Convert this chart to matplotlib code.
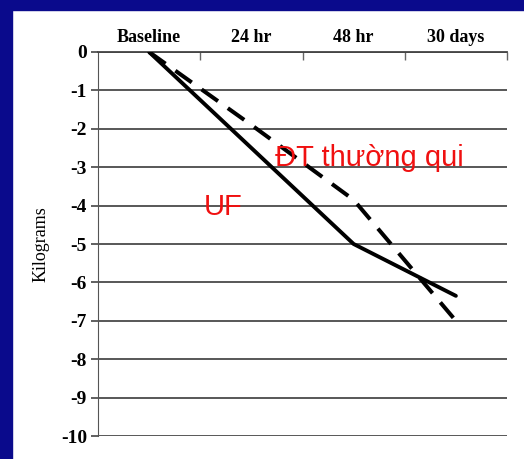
import matplotlib.pyplot as plt
from matplotlib.ticker import FixedLocator, NullFormatter

# data
categories = ["Baseline", "24 hr", "48 hr", "30 days"]
uf_kg = [0, -2.5, -5.0, -6.35]
standard_kg = [0, -1.9, -3.85, -7.0]
y_ticks = list(range(0, -11, -1))

fig = plt.figure(figsize=(5.24, 4.59), dpi=100)
fig.patch.set_facecolor("white")

# dark blue slide frame (top and left bands)
fig.patches.append(plt.Rectangle((0, 1 - 10 / 459), 1, 10 / 459,
                                 transform=fig.transFigure, color="#0a0a8c", zorder=0))
fig.patches.append(plt.Rectangle((0, 0), 12 / 524, 1,
                                 transform=fig.transFigure, color="#0a0a8c", zorder=0))

ax = fig.add_axes([98 / 524, 23 / 459, 409 / 524, 384 / 459])
ax.set_facecolor("none")

x = range(len(categories))
ax.plot(x, uf_kg, color="black", lw=2.8, solid_joinstyle="round",
        solid_capstyle="round", zorder=3)
ax.plot(x, standard_kg, color="black", lw=2.9, dashes=(5.0, 3.0), zorder=3)

ax.set_xlim(-0.5, len(categories) - 0.5)
ax.set_ylim(-10, 0)

# category axis on top, ticks on boundaries, labels centred
ax.xaxis.tick_top()
ax.xaxis.set_major_locator(FixedLocator([i + 0.5 for i in x]))
ax.xaxis.set_major_formatter(NullFormatter())
ax.xaxis.set_minor_locator(FixedLocator(list(x)))
ax.set_xticklabels(categories, minor=True)
ax.tick_params(axis="x", which="major", direction="in", length=6, color="#666666", width=1)
ax.tick_params(axis="x", which="minor", length=0, pad=4)
for lab in ax.get_xticklabels(minor=True):
    lab.set_fontfamily("Liberation Serif")
    lab.set_fontweight("bold")
    lab.set_fontsize(13)

ax.set_yticks(y_ticks)
ax.set_yticklabels([str(v) for v in y_ticks], fontfamily="Liberation Serif",
                   fontweight="bold", fontsize=14)
ax.tick_params(axis="y", direction="out", length=5, width=1.2, color="#444444", pad=3)
ax.grid(axis="y", color="#4a4a4a", lw=1.3)

for side in ["right", "bottom"]:
    ax.spines[side].set_visible(False)
ax.spines["left"].set_color("#555555")
ax.spines["top"].set_color("#444444")
ax.spines["top"].set_linewidth(1.3)

ax.set_ylabel("Kilograms", fontfamily="Liberation Serif", fontsize=13, labelpad=8)

ax.text(1.23, -2.76, "ĐT thường qui", color="#f01010", fontsize=21,
        fontfamily="Liberation Sans", va="center", ha="left", zorder=4)
ax.text(0.53, -4.04, "UF", color="#f01010", fontsize=21,
        fontfamily="Liberation Sans", va="center", ha="left", zorder=4)

fig.savefig("out.png", dpi=100)
